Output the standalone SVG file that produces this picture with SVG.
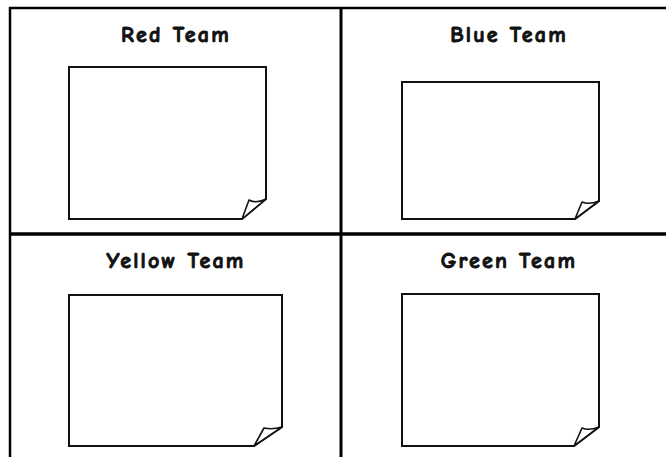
<svg xmlns="http://www.w3.org/2000/svg" width="666" height="457" viewBox="0 0 666 457">
<style>
.grid{stroke:#000;fill:none}
.note{fill:#fff;stroke:#111;stroke-width:2;stroke-linejoin:miter}
.fold{fill:#fff;stroke:#111;stroke-width:1.6;stroke-linejoin:round}
.title{font-family:"Comic Sans MS","Comic Neue","DejaVu Sans",sans-serif;font-weight:bold;font-size:22px;letter-spacing:2.2px;fill:#111;stroke:#111;stroke-width:0.9;text-anchor:middle}
</style>
<rect width="666" height="457" fill="#fff"/>
<g id="grid">
<line class="grid" x1="9" y1="8" x2="666" y2="8" stroke-width="2.5"/>
<line class="grid" x1="10" y1="7" x2="10" y2="457" stroke-width="2.5"/>
<line class="grid" x1="9" y1="234" x2="666" y2="234" stroke-width="3.5"/>
<line class="grid" x1="341" y1="7" x2="341" y2="457" stroke-width="3"/>
</g>
<g id="red">
<text class="title" x="176" y="42">Red Team</text>
<path class="note" d="M69 67 H266 V199 L242 219 H69 Z"/>
<path class="fold" d="M266 199 Q256 204 249 200 L242 219 Z"/>
</g>
<g id="blue">
<text class="title" x="509" y="42">Blue Team</text>
<path class="note" d="M402 82 H599 V201 L575 219 H402 Z"/>
<path class="fold" d="M599 201 Q589 205 582 202 L575 219 Z"/>
</g>
<g id="yellow">
<text class="title" x="176" y="268">Yellow Team</text>
<path class="note" d="M69 295 H282 V427 L254 446 H69 Z"/>
<path class="fold" d="M282 427 Q272 430 264 428 L254 446 Z"/>
</g>
<g id="green">
<text class="title" x="509" y="268">Green Team</text>
<path class="note" d="M402 294 H599 V427 L574 446 H402 Z"/>
<path class="fold" d="M599 427 Q589 431 582 428 L574 446 Z"/>
</g>
</svg>
